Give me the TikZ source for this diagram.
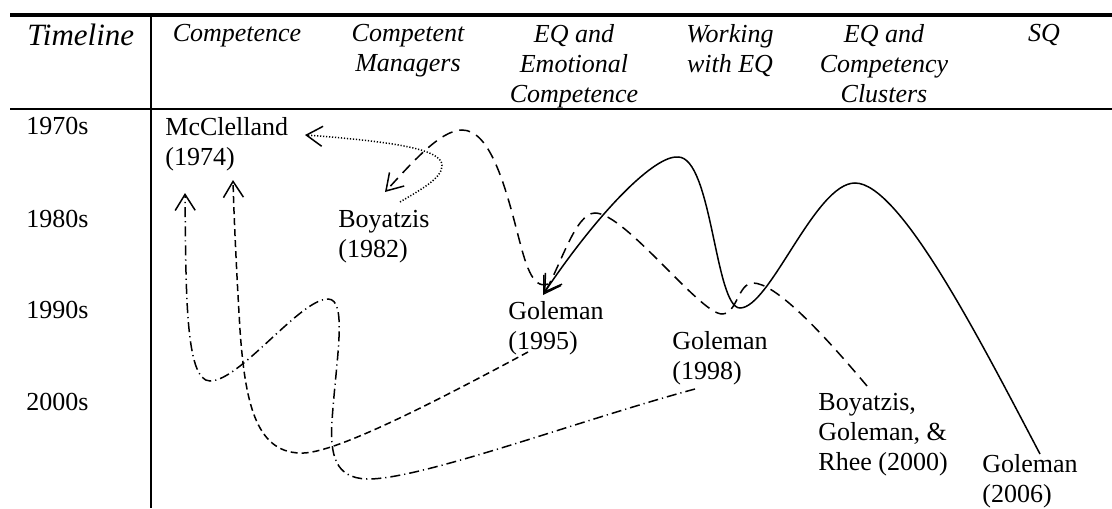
\documentclass[tikz,border=0pt]{standalone}
\usepackage{fontspec}
\setmainfont{Liberation Serif}
\usetikzlibrary{arrows.meta,calc}

\tikzset{
  hdr/.style={font=\fontsize{13}{15}\selectfont\itshape, align=center, anchor=north, inner sep=0pt},
  cite/.style={font=\fontsize{13}{15}\selectfont, align=left, anchor=north west, inner sep=0pt},
  link/.style={line width=0.75pt, -{Straight Barb[length=8pt,width=10pt]}},
  dotline/.style={dash pattern=on 0.6pt off 0.9pt},
  longdash/.style={dash pattern=on 5.5pt off 3.5pt},
  shortdash/.style={dash pattern=on 3.5pt off 2pt},
  dashdotline/.style={dash pattern=on 5pt off 2pt on 0.6pt off 2pt}
}

\begin{document}
\begin{tikzpicture}[x=0.5pt,y=0.5pt,yscale=-1,xscale=1]
        \useasboundingbox (0,0) rectangle (1112,508);

        %Rules of the table
        \draw [line width=2pt] (10,15) -- (1112,15) ;
        \draw [line width=1.3pt] (10,109) -- (1112,109) ;
        \draw [line width=1.2pt] (151,15) -- (151,508) ;

        % Text Node: header
        \node [hdr, font=\fontsize{15.5}{18}\selectfont\itshape, anchor=north west] (tl) at (27,24) {Timeline};
        \node [hdr] (hcomp) at (237,24) {Competence};
        \node [hdr] (hmgr) at (408,24) {Competent\\Managers};
        \node [hdr] (hemo) at (574,24) {EQ and\\Emotional\\Competence};
        \node [hdr] (hwork) at (730,24) {Working\\with EQ};
        \node [hdr] (hclus) at (884,24) {EQ and\\Competency\\Clusters};
        \node [hdr] (hsq) at (1044,24) {SQ};

        % Text Node: decades
        \node [cite] (d70) at (26,117) {1970s};
        \node [cite] (d80) at (26,210) {1980s};
        \node [cite] (d90) at (26,301) {1990s};
        \node [cite] (d00) at (26,393) {2000s};

        % Text Node: authors
        \node [cite] (mcc) at (165,117) {McClelland\\(1974)};
        \node [cite] (boy) at (338,210) {Boyatzis\\(1982)};
        \node [cite] (gol95) at (508,301) {Goleman\\(1995)};
        \node [cite] (gol98) at (672,331) {Goleman\\(1998)};
        \node [cite] (bgr) at (818,393) {Boyatzis,\\Goleman, \&\\Rhee (2000)};
        \node [cite] (gol06) at (982,454) {Goleman\\(2006)};

        %Curve Lines: Boyatzis to McClelland
        \draw [link, dotline] ($(boy.north west)+(62,-8)$) .. controls (420,190) and (443,178) .. (442,165) .. controls (441,150) and (400,142) .. ($(mcc.north west)+(140,18)$) ;
        %Curve Lines: Goleman 1995 to Boyatzis
        \draw [link, longdash] ($(gol95.north west)+(40,-17)$) .. controls (532,290) and (525,262) .. (518,235) .. controls (505,185) and (490,130) .. (462,130) .. controls (440,130) and (410,165) .. ($(boy.north west)+(47,-18)$) ;
        %Curve Lines: Boyatzis, Goleman and Rhee to Goleman 1995
        \draw [link, longdash] ($(bgr.north west)+(49,-7)$) .. controls (820,330) and (775,283) .. (753,283) .. controls (738,283) and (737,314) .. (722,314) .. controls (700,314) and (625,213) .. (595,213) .. controls (575,213) and (560,268) .. ($(gol95.north west)+(35,-6)$) ;
        %Curve Lines: Goleman 2006 to Goleman 1995
        \draw [link] ($(gol06.north west)+(58,0)$) .. controls (980,340) and (900,183) .. (855,183) .. controls (815,183) and (770,308) .. (740,308) .. controls (715,308) and (712,157) .. (678,157) .. controls (655,155) and (600,210) .. ($(gol95.north west)+(36,-8)$) ;
        %Curve Lines: Goleman 1995 to McClelland
        \draw [link, shortdash] ($(gol95.north west)+(20,51)$) .. controls (420,410) and (330,455) .. (300,453) .. controls (255,452) and (245,400) .. (240,330) .. controls (237,280) and (234,220) .. ($(mcc.north west)+(68,63)$) ;
        %Curve Lines: Goleman 1998 to McClelland
        \draw [link, dashdotline] ($(gol98.north west)+(23,58)$) .. controls (580,420) and (420,480) .. (367,479) .. controls (335,478) and (330,455) .. (332,421) .. controls (336,360) and (348,299) .. (328,299) .. controls (300,299) and (240,381) .. (210,381) .. controls (185,381) and (186,290) .. ($(mcc.north west)+(20,76)$) ;

\end{tikzpicture}
\end{document}
